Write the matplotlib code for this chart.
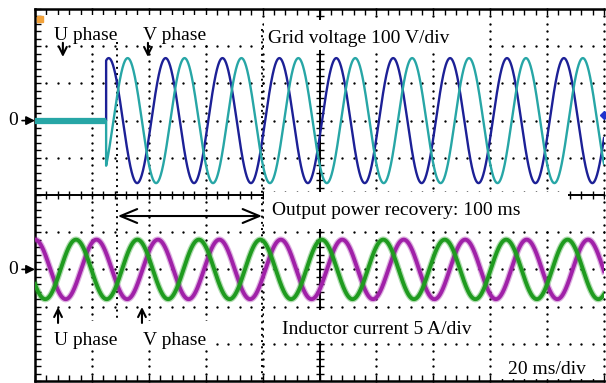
#!/usr/bin/env python3
# -*- coding: utf-8 -*-

"""
Scope capture: grid voltage and inductor current during output power recovery
"""

import numpy as np
import matplotlib
matplotlib.use("Agg")
import matplotlib.pyplot as plt
from matplotlib.patches import Rectangle

plt.rcParams['font.family'] = ['Liberation Serif', 'DejaVu Serif']

# scope settings
time_per_div = 20.0     # ms/div
volt_per_div = 100.0    # V/div
amp_per_div = 5.0       # A/div
n_xdiv = 10
n_ydiv = 10
ch_zero = [2.0, -2.0]   # ground markers of the two channels (div)

# grid voltage, U and V phase
v_amplitude = [168.0, 168.0]   # V
v_lag = [0.0, 120.0]           # deg
v_period = 20.0                # ms
v_peak_time = 25.9             # ms, a U-phase peak
v_start = 25.0                 # ms, voltage comes back
v_colors = ["#1c2096", "#27a6a6"]

# inductor current, U and V phase
i_amplitude = [4.0, 4.0]       # A
i_lag = [0.0, 120.0]           # deg
i_period = 21.6                # ms
i_peak_time = 14.4             # ms, a U-phase peak
i_colors = ["#1f9b1f", "#a021a8"]

# cursors bounding the recovery interval (ms)
cursor_t = [28.8, 79.8]


def _wave(t, amp, lag, period, t0):
    """ cosine wave from the read-off parameters """
    return amp * np.cos(2 * np.pi * (t - t0) / period - np.deg2rad(lag))


def scope_grid(ax):
    """ border ticks, dotted graticule and centre cross """
    xmax = n_xdiv * time_per_div
    ymax = n_ydiv / 2
    ax.set_xlim(0, xmax)
    ax.set_ylim(-ymax, ymax)
    xminor = np.arange(0, xmax + 0.1, time_per_div / 5)
    yminor = np.arange(-ymax, ymax + 0.01, 0.2)
    ax.set_xticks(xminor)
    ax.set_yticks(yminor)
    ax.tick_params(direction='in', length=4, width=1, top=True, bottom=True,
                   left=True, right=False, labelbottom=False, labelleft=False)
    for side in ['left', 'top', 'bottom']:
        ax.spines[side].set_linewidth(1.8)
    ax.spines['right'].set_visible(False)

    # dotted graticule
    for k in range(1, n_xdiv + 1):
        if k == n_xdiv // 2:
            continue
        ax.plot(np.full_like(yminor, k * time_per_div), yminor, ls='none',
                marker='o', ms=1.7, mew=0, color='k', zorder=2, clip_on=False)
    for j in range(-int(ymax) + 1, int(ymax)):
        if j == 0:
            continue
        ax.plot(xminor, np.full_like(xminor, j), ls='none',
                marker='o', ms=1.7, mew=0, color='k', zorder=2)

    # centre cross with ticks
    ax.axhline(0, color='k', lw=1.4, zorder=2)
    ax.axvline(xmax / 2, color='k', lw=1.4, zorder=2)
    ax.plot(xminor, np.zeros_like(xminor), ls='none', marker='|', ms=6,
            mew=1, color='k', zorder=2)
    ax.plot(np.full_like(yminor, xmax / 2), yminor, ls='none', marker='_',
            ms=6, mew=1, color='k', zorder=2)


def blank(ax, x0, y0, x1, y1):
    """ white patch behind a label """
    ax.add_patch(Rectangle((x0, y0), x1 - x0, y1 - y0, facecolor='white',
                           edgecolor='none', zorder=2.6))


fig = plt.figure(figsize=(6.06, 3.83), dpi=100)
ax = fig.add_axes([35 / 606, 2 / 383, 569 / 606, 372 / 383])
scope_grid(ax)

# label backgrounds
blank(ax, 3.5, 4.03, 63.3, 4.84)
blank(ax, 80.5, 3.90, 157.1, 4.70)
blank(ax, 80.5, -0.91, 187.3, 0.08)
blank(ax, 3.5, -4.11, 63.3, -3.39)
blank(ax, 80.5, -3.92, 159.2, -3.09)
blank(ax, 163.4, -4.95, 198.6, -4.17)

# cursors
ax.plot([cursor_t[0]] * 2, [4.11, -3.36], color='k', lw=1.4,
        ls=(0, (1, 2.2)), zorder=2.8)
ax.plot([cursor_t[1]] * 2, [4.45, -5.0], color='k', lw=1.4,
        ls=(0, (1, 2.2)), zorder=2.8)

# grid voltage
t_off = np.array([0.0, v_start])
t_on = np.linspace(v_start, n_xdiv * time_per_div, 3000)
for amp, lag, col in zip(v_amplitude, v_lag, v_colors):
    v = _wave(t_on, amp, lag, v_period, v_peak_time)
    tt = np.concatenate([t_off, t_on])
    vv = np.concatenate([[0.0, 0.0], v])
    ax.plot(tt, ch_zero[0] + vv / volt_per_div, color=col, lw=1.7, zorder=3)
ax.plot(t_off, ch_zero[0] + t_off * 0, color=v_colors[1], lw=4.5,
        solid_capstyle='butt', zorder=3.1)

# inductor current (V phase drawn first)
t_i = np.linspace(0, n_xdiv * time_per_div, 3000)
for amp, lag, col in list(zip(i_amplitude, i_lag, i_colors))[::-1]:
    i = _wave(t_i, amp, lag, i_period, i_peak_time)
    y = ch_zero[1] + i / amp_per_div
    ax.plot(t_i, y, color=col, lw=4.6, alpha=0.35, zorder=3)
    ax.plot(t_i, y, color=col, lw=2.8, zorder=3)

# channel ground markers
for z in ch_zero:
    ax.annotate('0', xy=(0, z), xytext=(-22, 0), textcoords='offset pixels',
                ha='center', va='center', fontsize=14, annotation_clip=False,
                arrowprops=dict(arrowstyle='-|>', color='k', lw=1.2,
                                mutation_scale=13, shrinkA=1, shrinkB=0))
ax.plot(1.6, 4.72, marker='s', ms=5, color='#f2a23a', zorder=4, clip_on=False)
ax.plot(200, 2.15, marker='D', ms=4, color='#2233cc', zorder=4, clip_on=False)

# labels
fs = 14
ax.text(6.7, 4.17, 'U phase', fontsize=fs, zorder=5)
ax.text(38.0, 4.17, 'V phase', fontsize=fs, zorder=5)
ax.text(81.9, 4.09, 'Grid voltage 100 V/div', fontsize=fs, zorder=5)
ax.text(83.3, -0.54, 'Output power recovery: 100 ms', fontsize=fs, zorder=5)
ax.text(86.8, -3.74, 'Inductor current 5 A/div', fontsize=fs, zorder=5)
ax.text(6.7, -4.03, 'U phase', fontsize=fs, zorder=5)
ax.text(38.0, -4.03, 'V phase', fontsize=fs, zorder=5)
ax.text(166.3, -4.81, '20 ms/div', fontsize=fs, zorder=5)

arrow = dict(arrowstyle='->', color='k', lw=1.5, mutation_scale=14,
             shrinkA=0, shrinkB=0)
for x in [9.8, 39.7]:
    ax.annotate('', xy=(x, 3.71), xytext=(x, 4.09), arrowprops=arrow, zorder=5)
for x in [8.1, 37.6]:
    ax.annotate('', xy=(x, -3.01), xytext=(x, -3.44), arrowprops=arrow, zorder=5)
ax.annotate('', xy=(cursor_t[0] + 0.3, -0.565), xytext=(cursor_t[1], -0.565),
            arrowprops=dict(arrowstyle='<->, head_length=0.6, head_width=0.25',
                            color='k', lw=1.5, mutation_scale=20,
                            shrinkA=0, shrinkB=0), zorder=5)

fig.savefig('out.png', dpi=100)
